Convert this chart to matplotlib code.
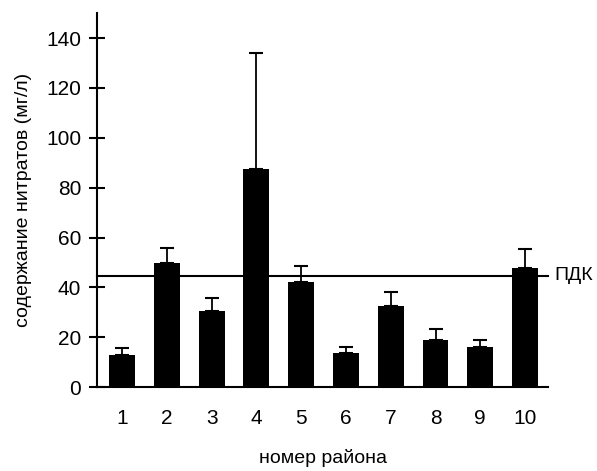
import matplotlib
matplotlib.use("Agg")
import matplotlib.pyplot as plt

districts = ["1", "2", "3", "4", "5", "6", "7", "8", "9", "10"]
nitrates = [13, 50, 30.4, 87.5, 42, 13.9, 32.5, 18.8, 16.1, 47.7]
errors = [2.6, 5.8, 5.3, 46.5, 6.7, 2.2, 5.5, 4.5, 2.7, 7.8]
pdk_value = 44.7
pdk_label = "ПДК"

plt.rcParams['font.family'] = ['Liberation Sans', 'DejaVu Sans']

fig = plt.figure(figsize=(5.97, 4.71), dpi=100)
ax = fig.add_axes([0.1625, 0.178, 0.9185 - 0.1625, 0.972 - 0.178])

x = list(range(1, len(districts) + 1))
ax.bar(x, nitrates, width=0.58, color='black', zorder=2)
ax.errorbar(x, nitrates, yerr=[[0] * len(errors), errors], fmt='none',
            ecolor='black', elinewidth=1.3, capsize=5, capthick=1.5, zorder=3)

ax.axhline(pdk_value, color='black', lw=1.5, zorder=1, clip_on=False)
ax.annotate(pdk_label, xy=(1.0, pdk_value), xycoords=('axes fraction', 'data'),
            xytext=(4, 0), textcoords='offset points', va='center', ha='left',
            fontsize=14)

ax.set_xlim(0.44, 10.52)
ax.set_ylim(0, 150)
ax.set_yticks(range(0, 141, 20))
ax.set_xticks(x)
ax.set_xticklabels(districts)

for s in ['top', 'right']:
    ax.spines[s].set_visible(False)
for s in ['left', 'bottom']:
    ax.spines[s].set_linewidth(1.5)

ax.tick_params(axis='y', direction='inout', length=11, width=1.5, labelsize=15, pad=6)
ax.tick_params(axis='x', length=0, labelsize=15, pad=16)

ax.set_xlabel("номер района", fontsize=14, labelpad=15)
ax.set_ylabel("содержание нитратов (мг/л)", fontsize=14, labelpad=10)

fig.savefig("out.png", dpi=100)
